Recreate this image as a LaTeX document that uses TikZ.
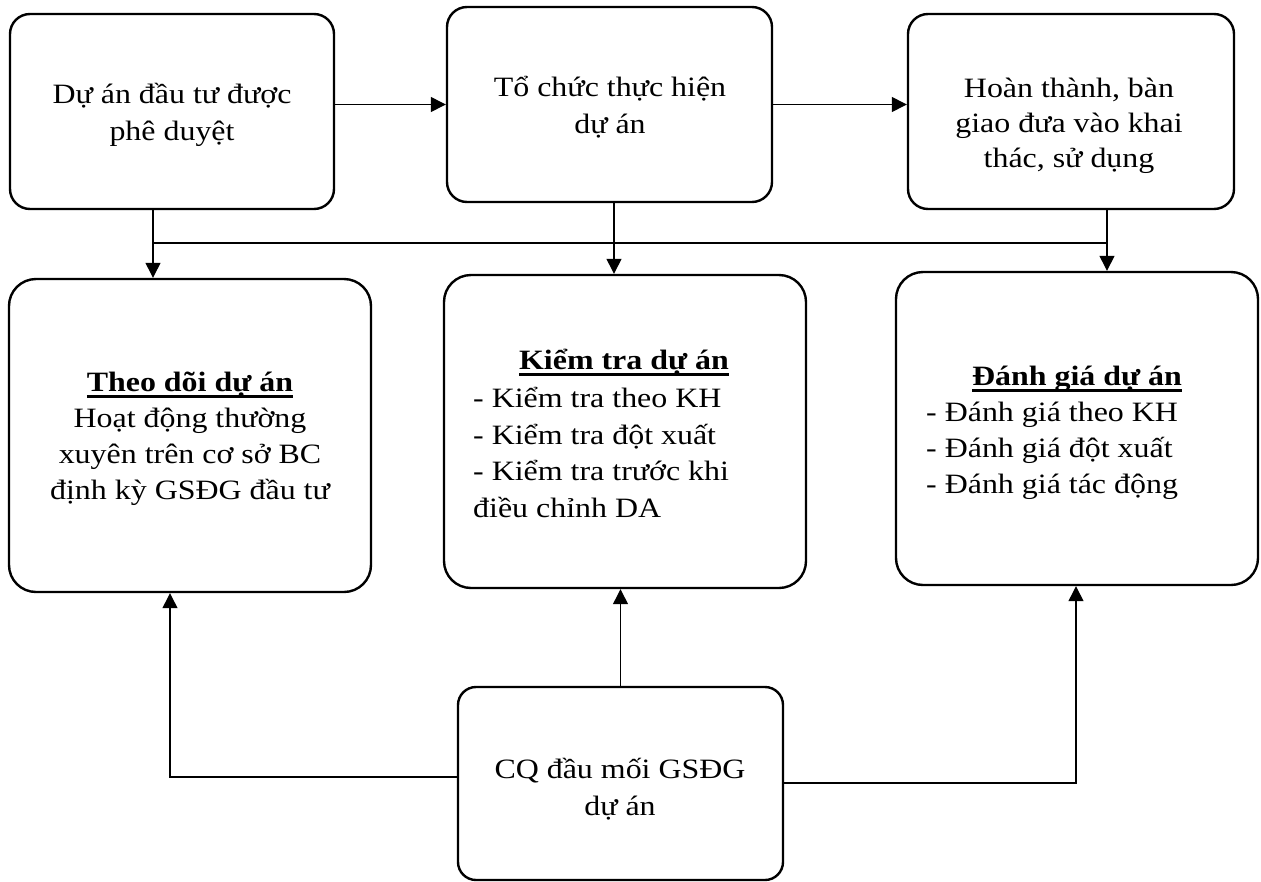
\documentclass[tikz,border=0pt]{standalone}
\usepackage{fontspec}
\setmainfont{Liberation Serif}[FakeStretch=1.14]
\usetikzlibrary{arrows.meta}
\newcommand\myul[1]{\setbox0\hbox{#1}\rlap{\rule[-6.5pt]{\wd0}{2.5pt}}\box0}
\begin{document}
\begin{tikzpicture}[x=1pt,y=-1pt,
  box/.style={draw, line width=2.4pt, rounded corners=20pt, inner sep=0pt},
  bigbox/.style={box, rounded corners=27pt, minimum width=362pt, minimum height=313pt},
  txt/.style={font=\fontsize{28pt}{36.5pt}\selectfont, align=center, inner sep=0pt, anchor=base},
  txtl/.style={txt, align=left, anchor=base west},
  conn/.style={line width=1.3pt},
  arr/.style={conn, -{Triangle[length=15pt,width=15pt]}}]
\useasboundingbox (0,0) rectangle (1261,881);
% boxes
\node[box, minimum width=324pt, minimum height=195pt] (A) at (172,111.5) {};
\node[box, minimum width=325pt, minimum height=195pt] (B) at (609.5,104.5) {};
\node[box, minimum width=326pt, minimum height=195pt] (C) at (1071,111.5) {};
\node[bigbox] (D) at (190,435.5) {};
\node[bigbox] (E) at (625,431.5) {};
\node[bigbox] (F) at (1077,428.5) {};
\node[box, rounded corners=18pt, minimum width=325pt, minimum height=193pt] (G) at (620.5,783.5) {};
% texts (anchor = baseline of the last line)
\node[txt] (tA) at (172,140) {Dự án đầu tư được\\phê duyệt};
\node[txt] (tB) at (610,133) {Tổ chức thực hiện\\dự án};
\node[txt, font=\fontsize{28pt}{35pt}\selectfont] (tC) at (1069,167) {Hoàn thành, bàn\\giao đưa vào khai\\thác, sử dụng};
\node[txt, font=\fontsize{28pt}{36pt}\selectfont] (tD) at (190,499) {\textbf{\myul{Theo dõi dự án}}\\Hoạt động thường\\xuyên trên cơ sở BC\\định kỳ GSĐG đầu tư};
\node[txt] (hE) at (624,369) {\textbf{\myul{Kiểm tra dự án}}};
\node[txtl] (lE) at (473,517) {- Kiểm tra theo KH\\- Kiểm tra đột xuất\\- Kiểm tra trước khi\\điều chỉnh DA};
\node[txt] (hF) at (1077,385) {\textbf{\myul{Đánh giá dự án}}};
\node[txtl, font=\fontsize{28pt}{36pt}\selectfont] (lF) at (926,493) {- Đánh giá theo KH\\- Đánh giá đột xuất\\- Đánh giá tác động};
\node[txt] (tG) at (620,815) {CQ đầu mối GSĐG\\dự án};
% connectors
\draw[arr] (A.east |- B.west) -- (B.west);
\draw[arr] (B.east) -- (B.east -| C.west);
\coordinate (jA) at (153,243);
\coordinate (jB) at (614,243);
\coordinate (jC) at (1107,243);
\draw[conn] (jA) -- (jC);
\draw[arr] (A.south -| jA) -- (jA |- D.north);
\draw[arr] (B.south -| jB) -- (jB |- E.north);
\draw[arr] (C.south -| jC) -- (jC |- F.north);
\draw[arr] (G.north) -- (G.north |- E.south);
\coordinate (kD) at (170,777);
\coordinate (kF) at (1076,783);
\draw[arr] (G.west |- kD) -- (kD) -- (kD |- D.south);
\draw[arr] (G.east |- kF) -- (kF) -- (kF |- F.south);
\end{tikzpicture}
\end{document}
